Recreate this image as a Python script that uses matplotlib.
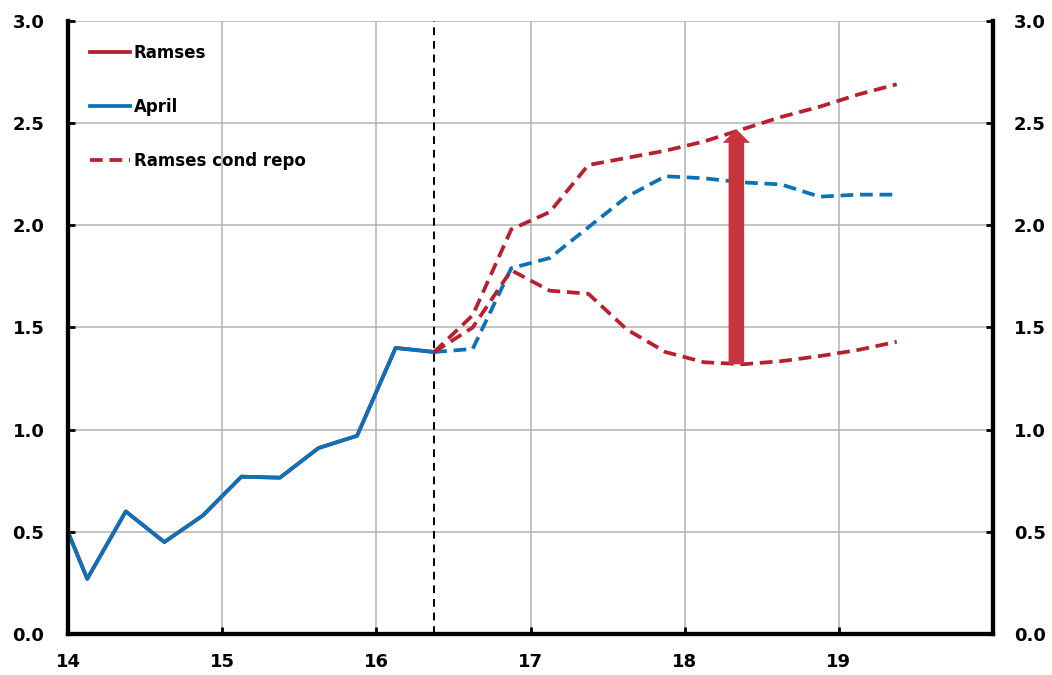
import numpy as np
import matplotlib.pyplot as plt
from matplotlib.lines import Line2D

plt.rcParams['font.family'] = ['DejaVu Sans']
plt.rcParams['font.weight'] = 'bold'

# Quarterly data, plotted at mid-quarter (13.875 = 2013 Q4)
hist_q = ['13Q4', '14Q1', '14Q2', '14Q3', '14Q4', '15Q1', '15Q2', '15Q3',
          '15Q4', '16Q1', '16Q2']
april_hist = [0.73, 0.27, 0.60, 0.45, 0.58, 0.77, 0.765, 0.91, 0.97, 1.40, 1.38]

fc_q = ['16Q2', '16Q3', '16Q4', '17Q1', '17Q2', '17Q3', '17Q4', '18Q1',
        '18Q2', '18Q3', '18Q4', '19Q1', '19Q2']
april_fc = [1.38, 1.395, 1.79, 1.84, 1.99, 2.14, 2.24, 2.23, 2.21, 2.20,
            2.14, 2.15, 2.15]
ramses_fc = [1.38, 1.50, 1.78, 1.68, 1.665, 1.49, 1.38, 1.33, 1.32, 1.335,
             1.36, 1.39, 1.43]
ramses_repo = [1.38, 1.56, 1.98, 2.065, 2.295, 2.33, 2.365, 2.41, 2.47,
               2.53, 2.58, 2.64, 2.69]

forecast_start = '16Q2'
arrow_q = '18Q2'
arrow_from, arrow_to = 1.32, 2.47


def qpos(q):
    # '16Q2' -> 16.375
    yr, qt = q.split('Q')
    return int(yr) + (int(qt) - 1) * 0.25 + 0.125


red = '#B8202F'
blue = '#0B72B9'
arrow_red = '#C9333B'

fig = plt.figure(figsize=(10.52, 6.75), dpi=100)
ax = fig.add_axes([0.0646, 0.0607, 0.8794, 0.9083])

xh = [qpos(q) for q in hist_q]
xf = [qpos(q) for q in fc_q]

lw = 2.7
dash = (0, (3.4, 1.8))
ax.plot(xh, april_hist, color=red, lw=lw, zorder=3)  # Ramses history, under April
ax.plot(xh, april_hist, color=blue, lw=lw, zorder=4)
ax.plot(xf, april_fc, color=blue, lw=lw, ls=dash, zorder=4)
ax.plot(xf, ramses_fc, color=red, lw=lw, ls=dash, zorder=5)
ax.plot(xf, ramses_repo, color=red, lw=lw, ls=dash, zorder=5)

# forecast start
ax.axvline(qpos(forecast_start), color='black', lw=1.4, ls=(0, (4, 3)), zorder=6)

# repo gap arrow
ax.annotate('', xy=(qpos(arrow_q) - 0.04, arrow_to),
            xytext=(qpos(arrow_q) - 0.04, arrow_from),
            arrowprops=dict(arrowstyle='simple,head_length=0.7,head_width=1.4,tail_width=0.8',
                            color=arrow_red, lw=0, shrinkA=0, shrinkB=0,
                            mutation_scale=14),
            zorder=7)

ax.set_xlim(14, 20)
ax.set_ylim(0, 3)
ax.set_xticks(range(14, 20))
ax.set_yticks(np.arange(0, 3.01, 0.5))
ax.set_yticklabels([f'{v:.1f}' for v in np.arange(0, 3.01, 0.5)])
ax.grid(True, color='#B3B3B3', lw=1.1, zorder=0)
ax.set_axisbelow(True)

for s in ax.spines.values():
    s.set_linewidth(3)
ax.spines['top'].set_visible(False)

ax.tick_params(direction='in', length=5, width=2, labelsize=13, pad=14)
ax.tick_params(axis='y', pad=17)

ax2 = ax.twinx()
ax2.set_ylim(0, 3)
ax2.set_yticks(np.arange(0, 3.01, 0.5))
ax2.set_yticklabels([f'{v:.1f}' for v in np.arange(0, 3.01, 0.5)])
ax2.tick_params(direction='in', length=5, width=2, labelsize=13, pad=15)
for s in ax2.spines.values():
    s.set_linewidth(3)
ax2.spines['top'].set_visible(False)

handles = [Line2D([], [], color=red, lw=lw),
           Line2D([], [], color=blue, lw=lw),
           Line2D([], [], color=red, lw=lw, ls=dash)]
leg = ax.legend(handles, ['Ramses', 'April', 'Ramses cond repo'],
                loc='upper left', bbox_to_anchor=(0.002, 0.995), frameon=False,
                fontsize=12, handlelength=2.4, handletextpad=0.25,
                labelspacing=2.15, borderaxespad=0.8)

fig.savefig('out.png', dpi=100)
